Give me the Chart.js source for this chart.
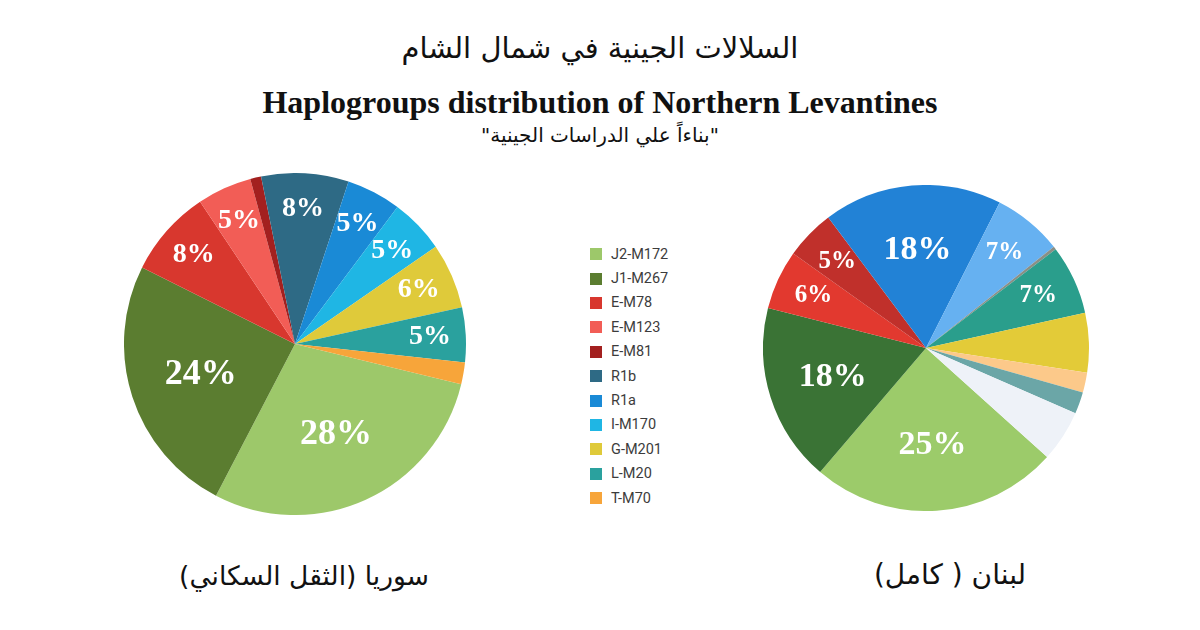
<!DOCTYPE html>
<html lang="ar">
<head>
<meta charset="utf-8">
<title>Haplogroups distribution of Northern Levantines</title>
<script src="https://cdn.jsdelivr.net/npm/chart.js@4.4.1/dist/chart.umd.min.js"></script>
<style>
  html, body { margin: 0; padding: 0; background: #fff; }
  #page { position: relative; width: 1200px; height: 630px; overflow: hidden; background: #fff; }
  .txt { position: absolute; left: 0; width: 1200px; text-align: center; color: #111; white-space: nowrap; }
  #titleAr { top: 31px; font: 29px "DejaVu Sans", sans-serif; }
  #titleEn { top: 84px; font: bold 32px "Liberation Serif", "DejaVu Serif", serif; }
  #subAr { top: 123px; font: 20px "DejaVu Sans", sans-serif; }
  .foot { position: absolute; top: 558px; color: #111; white-space: nowrap; text-align: center; width: 400px; font-family: "DejaVu Sans", sans-serif; }
  #footSy { left: 104px; font-size: 26.5px; top: 560px; }
  #footLb { left: 750px; font-size: 28px; }
  #leftPie { position: absolute; left: 124px; top: 173px; }
  #rightPie { position: absolute; left: 763px; top: 185px; }
  #legend { position: absolute; left: 590px; top: 242px; font: 14.5px Roboto, "Noto Sans", sans-serif; color: #3c3c3c; }
  .row { height: 24.4px; display: flex; align-items: center; }
  .box { width: 12px; height: 12px; margin-right: 9px; }
</style>
</head>
<body>
<div id="page">
  <div class="txt" id="titleAr" dir="rtl">السلالات الجينية في شمال الشام</div>
  <div class="txt" id="titleEn">Haplogroups distribution of Northern Levantines</div>
  <div class="txt" id="subAr" dir="rtl">"بناءاً علي الدراسات الجينية"</div>

  <canvas id="leftPie" width="342" height="342"></canvas>
  <canvas id="rightPie" width="326" height="326"></canvas>
  <div id="legend"></div>

  <div class="foot" id="footSy" dir="rtl">سوريا (الثقل السكاني)</div>
  <div class="foot" id="footLb" dir="rtl">لبنان ( كامل)</div>
</div>

<script>
//Legend groups and their colours (same order as the Syria pie).
const legendLabels = ['J2-M172', 'J1-M267', 'E-M78', 'E-M123', 'E-M81', 'R1b', 'R1a', 'I-M170', 'G-M201', 'L-M20', 'T-M70'];
const legendColors = ['#9dc86a', '#5b7d30', '#d8372e', '#f25d56', '#a3201f', '#2e6a85', '#1a8ad6', '#1fb6e4', '#dfca3a', '#2aa19e', '#f7a53a'];

//Syria (left pie) values in percent.
const syriaLabels = ['J2-M172', 'J1-M267', 'E-M78', 'E-M123', 'E-M81', 'R1b', 'R1a', 'I-M170', 'G-M201', 'L-M20', 'T-M70'];
const syriaValues = [28, 24, 8, 5, 1, 8, 5, 5, 6, 5, 2];
const syriaTexts = ['28%', '24%', '8%', '5%', '', '8%', '5%', '5%', '6%', '5%', ''];
const syriaColors = legendColors;

//Lebanon (right pie) values. The last few slices have no printed number, so they are estimated.
const lebanonLabels = ['J2-M172', 'J1-M267', 'E-M78', 'E-M81', 'R1a', 'I-M170', 'R1b', 'L-M20', 'G-M201', 'T-M70', 'Other 1', 'Other 2'];
const lebanonValues = [25, 18, 6, 5, 18, 7, 0.3, 7, 6, 2, 2.2, 5.2];
const lebanonTexts = ['25%', '18%', '6%', '5%', '18%', '7%', '', '7%', '', '', '', ''];
const lebanonColors = ['#9ccb6a', '#3a7335', '#e2392f', '#c0302b', '#2282d6', '#66b1f1', '#8a8f86', '#2a9e8c', '#e3cb38', '#fcc98a', '#6ba6a7', '#eef2f8'];

//Plugin that writes the white percentage numbers inside the slices.
const sliceLabels = {
    id: 'sliceLabels',
    afterDatasetsDraw(chart, args, opts) {
        const ctx = chart.ctx;
        const meta = chart.getDatasetMeta(0);
        const values = chart.data.datasets[0].data;
        ctx.save();
        ctx.fillStyle = '#fff';
        ctx.textAlign = 'center';
        ctx.textBaseline = 'middle';
        meta.data.forEach((arc, i) => {
            const text = opts.texts[i];
            if (!text) return;
            const big = values[i] >= 15;//Big slices get a bigger number closer to the middle.
            const mid = (arc.startAngle + arc.endAngle) / 2;
            const r = arc.outerRadius * (big ? opts.bigRadius : opts.smallRadius);
            ctx.font = 'bold ' + (big ? opts.bigSize : opts.smallSize) + 'px "Liberation Serif", "DejaVu Serif", serif';
            ctx.fillText(text, arc.x + Math.cos(mid) * r, arc.y + Math.sin(mid) * r);
        });
        ctx.restore();
    }
};

function makePie(id, labels, values, colors, rotation, labelOpts) {
    return new Chart(document.getElementById(id), {
        type: 'pie',
        data: {
            labels: labels,
            datasets: [{
                data: values,
                backgroundColor: colors,
                borderWidth: 0,
                hoverOffset: 0,
                offset: 0
            }]
        },
        options: {
            responsive: false,
            animation: false,
            events: [],
            rotation: rotation,
            layout: { padding: 0 },
            plugins: {
                legend: { display: false },
                tooltip: { enabled: false },
                sliceLabels: labelOpts
            }
        },
        plugins: [sliceLabels]
    });
}

makePie('leftPie', syriaLabels, syriaValues, syriaColors, 103.6,
    { texts: syriaTexts, bigRadius: 0.58, smallRadius: 0.79, bigSize: 36, smallSize: 28 });
makePie('rightPie', lebanonLabels, lebanonValues, lebanonColors, 132,
    { texts: lebanonTexts, bigRadius: 0.6, smallRadius: 0.76, bigSize: 34, smallSize: 25 });

//Building the shared legend in the middle from the legend arrays.
const legendDiv = document.getElementById('legend');
legendLabels.forEach((name, i) => {
    const row = document.createElement('div');
    row.className = 'row';
    const box = document.createElement('span');
    box.className = 'box';
    box.style.background = legendColors[i];
    const label = document.createElement('span');
    label.innerText = name;
    row.appendChild(box);
    row.appendChild(label);
    legendDiv.appendChild(row);
});
</script>
</body>
</html>
